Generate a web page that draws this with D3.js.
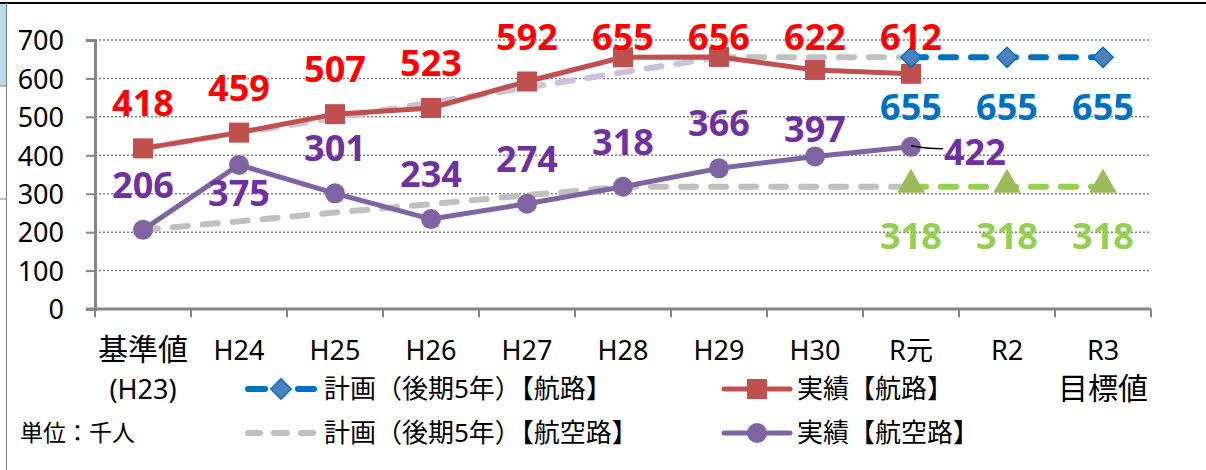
<!DOCTYPE html>
<html>
<head>
<meta charset="utf-8">
<script src="https://cdn.jsdelivr.net/npm/d3@7"></script>
<style>
  body { margin: 0; background: #fff; }
  svg { display: block; }
  text { font-family: "Noto Sans", "Noto Sans CJK JP", sans-serif; }
</style>
</head>
<body>
<div id="chart"></div>
<script>
// categories (fiscal years) and second line of the labels
var categories = ["基準値", "H24", "H25", "H26", "H27", "H28", "H29", "H30", "R元", "R2", "R3"]
var subLabels = {"基準値": "(H23)", "R3": "目標値"}

// actual results
var actualRoute = [418, 459, 507, 523, 592, 655, 656, 622, 612]      // 実績【航路】
var actualAir = [206, 375, 301, 234, 274, 318, 366, 397, 422]        // 実績【航空路】

// plan lines
var planRouteEarly = [418, 458, 497, 537, 576, 616, 655]            // lavender, 基準値..H29
var planRouteLate = [655, 655, 655]                                 // gray, H29..R元
var planAir = [206, 228, 251, 273, 296, 318, 318, 318, 318]         // gray, 基準値..R元

// targets
var targetRoute = [655, 655, 655]                                   // R元..R3
var targetAir = [318, 318, 318]                                     // R元..R3

var yTicks = [0, 100, 200, 300, 400, 500, 600, 700]

var w = 1206, h = 470
var margin = {left: 95, right: 55, top: 40, bottom: 161}

var svg = d3.select("#chart").append("svg")
    .attr("width", w)
    .attr("height", h)

// frame bits from the spreadsheet around the chart
svg.append("rect").attr("x", 0).attr("y", 3).attr("width", 6).attr("height", 83).attr("fill", "#b7dde8")
svg.append("line").attr("x1", 0).attr("x2", 1206).attr("y1", 3).attr("y2", 3).attr("stroke", "#000").attr("stroke-width", 2)
svg.append("line").attr("x1", 6.5).attr("x2", 6.5).attr("y1", 3).attr("y2", 470).attr("stroke", "#808080").attr("stroke-width", 1)
svg.append("line").attr("x1", 0).attr("x2", 6).attr("y1", 86).attr("y2", 86).attr("stroke", "#808080").attr("stroke-width", 1)
svg.append("line").attr("x1", 0).attr("x2", 6).attr("y1", 199).attr("y2", 199).attr("stroke", "#808080").attr("stroke-width", 1)

var x = d3.scaleBand().domain(categories).range([margin.left, w - margin.right]).padding(0)
var y = d3.scaleLinear().domain([0, 700]).range([h - margin.bottom, margin.top])
var cx = function (c) { return x(c) + x.bandwidth() / 2 }

// gridlines
svg.append("g").selectAll("line")
    .data(yTicks.filter(function (d) { return d > 0 }))
    .enter().append("line")
    .attr("x1", margin.left).attr("x2", w - margin.right)
    .attr("y1", function (d) { return y(d) }).attr("y2", function (d) { return y(d) })
    .attr("stroke", "#7f7f7f").attr("stroke-width", 1.5).attr("stroke-dasharray", "2,2")

// y axis
var yAxis = svg.append("g")
    .attr("transform", "translate(" + margin.left + ",0)")
    .call(d3.axisLeft(y).tickValues(yTicks).tickSize(9).tickPadding(22))
yAxis.select(".domain").attr("stroke", "#868686").attr("stroke-width", 3)
yAxis.selectAll(".tick line").attr("stroke", "#868686").attr("stroke-width", 2)
yAxis.selectAll(".tick text").attr("font-size", 27).attr("fill", "#000")
    .attr("font-family", "Noto Sans").attr("dy", "0.36em")

// x axis line and ticks between categories
var xg = svg.append("g")
xg.append("line").attr("x1", margin.left - 9).attr("x2", w - margin.right)
    .attr("y1", y(0)).attr("y2", y(0)).attr("stroke", "#868686").attr("stroke-width", 3)
var bounds = categories.map(function (c) { return x(c) }).concat([w - margin.right])
xg.selectAll(".xt").data(bounds).enter().append("line")
    .attr("x1", function (d) { return d }).attr("x2", function (d) { return d })
    .attr("y1", y(0)).attr("y2", y(0) + 8)
    .attr("stroke", "#868686").attr("stroke-width", 2)

xg.selectAll(".xl").data(categories).enter().append("text")
    .attr("x", cx).attr("y", 360)
    .attr("text-anchor", "middle")
    .attr("font-size", function (d) { return /[^\x00-\x7f]/.test(d) && d.length > 2 ? 30 : 27 })
    .attr("fill", "#000")
    .text(function (d) { return d })
xg.selectAll(".xs").data(categories.filter(function (c) { return subLabels[c] })).enter().append("text")
    .attr("x", cx).attr("y", 399)
    .attr("text-anchor", "middle")
    .attr("font-size", function (d) { return d == "R3" ? 30 : 27 })
    .attr("fill", "#000")
    .text(function (d) { return subLabels[d] })

// helper to draw a line for a slice of categories
function drawLine(values, startIdx, color, width, dash) {
    var pts = values.map(function (v, i) { return [cx(categories[startIdx + i]), y(v)] })
    var path = svg.append("path")
        .attr("d", d3.line()(pts))
        .attr("fill", "none")
        .attr("stroke", color)
        .attr("stroke-width", width)
        .attr("stroke-linejoin", "round")
    if (dash) {
        path.attr("stroke-dasharray", dash).attr("stroke-linecap", "round")
    }
    return pts
}

// plan lines under the actual ones
drawLine(planAir, 0, "#c0c0c0", 6, "15,15")
drawLine(planRouteLate, 6, "#c0c0c0", 6, "15,15")
drawLine(planRouteEarly, 0, "#ccc0da", 6, "15,15")

// targets
var tAirPts = drawLine(targetAir, 8, "#92d050", 6, "15,15")
var tRoutePts = drawLine(targetRoute, 8, "#0070c0", 6, "15,15")

// actual lines
var routePts = drawLine(actualRoute, 0, "#c0504d", 5)
var airPts = drawLine(actualAir, 0, "#8064a2", 5)

svg.append("g").selectAll("rect").data(routePts).enter().append("rect")
    .attr("x", function (d) { return d[0] - 10 }).attr("y", function (d) { return d[1] - 10 })
    .attr("width", 20).attr("height", 20).attr("fill", "#c0504d")
svg.append("g").selectAll("circle").data(airPts).enter().append("circle")
    .attr("cx", function (d) { return d[0] }).attr("cy", function (d) { return d[1] })
    .attr("r", 10).attr("fill", "#8064a2")

var diamond = d3.symbol().type(d3.symbolDiamond2).size(260)
svg.append("g").selectAll("path").data(tRoutePts).enter().append("path")
    .attr("d", diamond)
    .attr("transform", function (d) { return "translate(" + d[0] + "," + d[1] + ")" })
    .attr("fill", "#4f81bd").attr("stroke", "#0070c0").attr("stroke-width", 1.5)
var tri = d3.symbol().type(d3.symbolTriangle).size(330)
svg.append("g").selectAll("path").data(tAirPts).enter().append("path")
    .attr("d", tri)
    .attr("transform", function (d) { return "translate(" + d[0] + "," + (d[1] - 2) + ")" })
    .attr("fill", "#9bbb59")

// data labels
var labelSize = 36
function label(xc, yc, txt, color, anchor) {
    svg.append("text")
        .attr("x", xc).attr("y", yc + labelSize * 0.36)
        .attr("text-anchor", anchor || "middle")
        .attr("font-size", labelSize).attr("font-weight", "bold")
        .attr("fill", color)
        .text(txt)
}

actualRoute.forEach(function (v, i) {
    label(cx(categories[i]), Math.max(37, y(v) - 45), v, "#ff0000")
})

// where excel put the purple labels
var airDy = {"H24": 28, "H30": -27}
actualAir.forEach(function (v, i) {
    var c = categories[i]
    if (c == "R元") {
        svg.append("path")
            .attr("d", "M" + cx(c) + "," + (y(v) - 1) + " Q" + (cx(c) + 15) + "," + (y(v) + 2) + " " + (cx(c) + 32) + "," + (y(v) + 2))
            .attr("fill", "none").attr("stroke", "#000").attr("stroke-width", 1.5)
        label(cx(c) + 33, y(v) + 5, v, "#7030a0", "start")
    } else {
        var dy = airDy[c] != null ? airDy[c] : -45
        label(cx(c), y(v) + dy, v, "#7030a0")
    }
})

targetRoute.forEach(function (v, i) {
    label(cx(categories[8 + i]), y(v) + 50, v, "#0070c0")
})
targetAir.forEach(function (v, i) {
    label(cx(categories[8 + i]), y(v) + 49, v, "#92d050")
})

// legend
var lg = svg.append("g").attr("font-size", 26)
function legendLine(x1, x2, yy, color, width) {
    lg.append("line").attr("x1", x1).attr("x2", x2).attr("y1", yy).attr("y2", yy)
        .attr("stroke", color).attr("stroke-width", width).attr("stroke-linecap", "round")
}
var row1 = 389, row2 = 433

legendLine(248, 265, row1, "#0070c0", 6)
legendLine(298, 314, row1, "#0070c0", 6)
lg.append("path").attr("d", diamond).attr("transform", "translate(281," + row1 + ")")
    .attr("fill", "#4f81bd").attr("stroke", "#0070c0").attr("stroke-width", 1.5)
lg.append("text").attr("x", 324).attr("y", row1 + 9).text("計画（後期5年）【航路】")

legendLine(248, 260, row2, "#c0c0c0", 6)
legendLine(274, 287, row2, "#c0c0c0", 6)
legendLine(301, 313, row2, "#c0c0c0", 6)
lg.append("text").attr("x", 324).attr("y", row2 + 9).text("計画（後期5年）【航空路】")

legendLine(724, 790, row1, "#c0504d", 5)
lg.append("rect").attr("x", 747).attr("y", row1 - 10).attr("width", 20).attr("height", 20).attr("fill", "#c0504d")
lg.append("text").attr("x", 797).attr("y", row1 + 9).text("実績【航路】")

legendLine(724, 790, row2, "#8064a2", 5)
lg.append("circle").attr("cx", 757).attr("cy", row2).attr("r", 10).attr("fill", "#8064a2")
lg.append("text").attr("x", 797).attr("y", row2 + 9).text("実績【航空路】")

svg.append("text").attr("x", 20).attr("y", 441).attr("font-size", 23).text("単位：千人")
</script>
</body>
</html>
